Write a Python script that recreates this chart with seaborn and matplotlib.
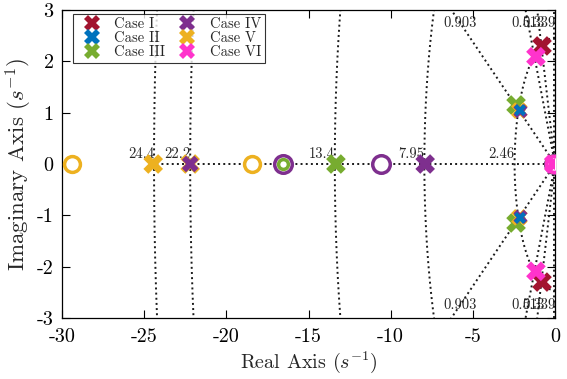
import numpy as np
import pandas as pd
import matplotlib
matplotlib.use("Agg")
import matplotlib.pyplot as plt
import seaborn as sns
from matplotlib.lines import Line2D

# ---------------- data ----------------
cases = ["Case I", "Case II", "Case III", "Case IV", "Case V", "Case VI"]
colors = ["#A2142F", "#0072BD", "#77AC30", "#7E2F8E", "#EDB120", "#FF33CC"]

# poles (real, imag) per case
pole_case = ["Case I", "Case I",
             "Case II", "Case II",
             "Case III", "Case III", "Case III",
             "Case IV", "Case IV", "Case IV", "Case IV",
             "Case V", "Case V", "Case V", "Case V",
             "Case VI", "Case VI", "Case VI"]
pole_re = [-0.79, -0.79,
           -2.13, -2.13,
           -2.37, -2.37, -13.33,
           -2.10, -2.10, -22.2, -7.9,
           -2.17, -2.17, -24.45, -22.2,
           -1.16, -1.16, -0.08]
pole_im = [2.30, -2.30,
           1.05, -1.05,
           1.15, -1.15, 0.0,
           1.03, -1.03, 0.0, 0.0,
           1.04, -1.04, 0.0, 0.0,
           2.09, -2.09, 0.0]

# zeros
zero_case = ["Case I", "Case II", "Case III", "Case III", "Case IV", "Case IV",
             "Case IV", "Case V", "Case V", "Case V", "Case VI"]
zero_re = [-0.08, -0.08, -0.08, -16.55, -16.55, -10.6,
           -0.08, -29.4, -18.45, -0.08, -0.08]
zero_im = [0.0] * len(zero_re)

# grid: damping ratios and natural frequencies
zeta_vals = [0.903, 0.513, 0.339]
zeta_labels = ["0.903", "0.513", "0.339"]
wn_vals = [24.4, 22.2, 13.4, 7.95, 2.46]
wn_labels = ["24.4", "22.2", "13.4", "7.95", "2.46"]

# ---------------- style ----------------
sns.set_theme(style="ticks")
plt.rcParams["font.family"] = ["cmr10", "DejaVu Serif"]
plt.rcParams["mathtext.fontset"] = "cm"
plt.rcParams["axes.unicode_minus"] = False
plt.rcParams["axes.formatter.use_mathtext"] = False

fig = plt.figure(figsize=(5.67, 3.79), dpi=100)
ax = fig.add_axes([62 / 567, 1 - 318 / 379, (555 - 62) / 567, (318 - 10) / 379])

gkw = dict(color="#1a1a1a", linestyle=":", linewidth=1.4, zorder=1)
# damping ratio rays
R = 40
for z, lab in zip(zeta_vals, zeta_labels):
    s = np.sqrt(1 - z ** 2)
    for sg in (1, -1):
        ax.plot([0, -R * z], [0, sg * R * s], **gkw)
        yl = sg * 2.75
        xl = -abs(yl) * z / s
        ax.text(xl, yl, lab, ha="center", va="center", fontsize=10.5, zorder=2)
# zeta = 1 line
ax.plot([0, -max(wn_vals)], [0, 0], **gkw)
# near-imaginary-axis ray
ax.plot([-0.07, -0.07], [-3, 3], **gkw)
# natural frequency circles
th = np.linspace(np.pi / 2, 3 * np.pi / 2, 400)
for w, lab in zip(wn_vals, wn_labels):
    ax.plot(w * np.cos(th), w * np.sin(th), **gkw)
    ax.text(-w, 0.05, lab, ha="right", va="bottom", fontsize=10.5, zorder=2)

pal = dict(zip(cases, colors))
poles = pd.DataFrame({"case": pole_case, "re": pole_re, "im": pole_im})
zeros = pd.DataFrame({"case": zero_case, "re": zero_re, "im": zero_im})

# zeros: hollow circles
for c in cases:
    d = zeros[zeros.case == c]
    size = 160 if c == "Case IV" else 130
    sns.scatterplot(data=d, x="re", y="im", ax=ax, marker="o", s=size,
                    facecolor="white", edgecolor=pal[c], linewidth=2.5,
                    legend=False, zorder=3)
# inner green ring (Case III zero inside the Case IV one)
d = zeros[(zeros.case == "Case III") & (zeros.re < -1)]
sns.scatterplot(data=d, x="re", y="im", ax=ax, marker="o", s=50,
                facecolor="white", edgecolor=pal["Case III"], linewidth=2.5,
                legend=False, zorder=4)

# poles: thick crosses; a pole drawn over earlier ones is drawn smaller
order = ["Case III", "Case V", "Case IV", "Case II", "Case I", "Case VI"]
drawn = []
for i, c in enumerate(order):
    d = poles[poles.case == c].copy()
    sz = []
    for re_, im_ in zip(d.re, d.im):
        n = sum(np.hypot((re_ - a) * 16.4, (im_ - b) * 51.3) < 8
                for a, b in drawn)
        sz.append(round(200 * 0.72 ** n))
    d["sz"] = sz
    sns.scatterplot(data=d, x="re", y="im", ax=ax, marker="X", size="sz",
                    sizes={v: v for v in set(sz)}, color=pal[c], linewidth=0,
                    legend=False, zorder=5 + i)
    drawn += list(zip(d.re, d.im))

# legend
handles = [Line2D([], [], marker="X", linestyle="none", markersize=12,
                  markerfacecolor=pal[c], markeredgewidth=0) for c in cases]
leg = ax.legend(handles, cases, loc="upper left", bbox_to_anchor=(0.022, 0.988),
                ncol=2, fontsize=10.5, frameon=True, fancybox=False,
                edgecolor="black", handletextpad=0.5, columnspacing=0.45,
                labelspacing=0.02, borderpad=0.25, handlelength=2.1,
                borderaxespad=0.0)
leg.get_frame().set_linewidth(0.8)
leg.set_zorder(20)

ax.set_xlim(-30, 0)
ax.set_ylim(-3, 3)
ax.set_xticks([-30, -25, -20, -15, -10, -5, 0])
ax.set_yticks([-3, -2, -1, 0, 1, 2, 3])
ax.tick_params(direction="in", length=6, width=0.8, top=True, right=True,
               labelsize=14.5, colors="black")
ax.tick_params(axis="x", pad=7)
ax.tick_params(axis="y", pad=6)
for sp in ax.spines.values():
    sp.set_visible(True)
    sp.set_color("black")
    sp.set_linewidth(0.9)
ax.set_xlabel("Real Axis ($s^{-1}$)", fontsize=14.5, labelpad=3)
ax.set_ylabel("Imaginary Axis ($s^{-1}$)", fontsize=16.5, labelpad=2)

fig.savefig("out.png", dpi=100)
